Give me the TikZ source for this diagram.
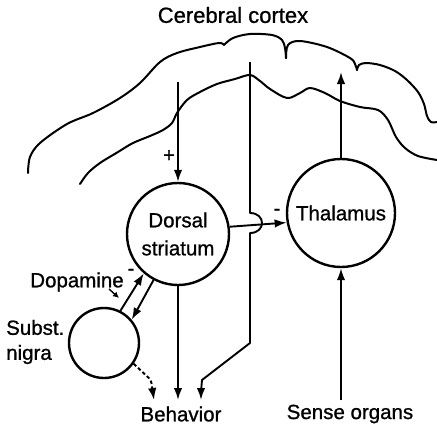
\documentclass[tikz,border=0pt]{standalone}
\usepackage{fontspec}
\setmainfont{Liberation Sans}[FakeBold=0.9]
\usetikzlibrary{arrows.meta}
\begin{document}
\begin{tikzpicture}[x=1pt,y=-1pt,
  lbl/.style={inner sep=0pt,font=\fontsize{20.5}{26}\selectfont},
  sgn/.style={inner sep=0pt,font=\fontsize{20}{20}\selectfont},
  ring/.style={draw,circle,line width=2.4pt,inner sep=0pt,font=\fontsize{20.5}{28}\selectfont,align=center},
  con/.style={line width=1.9pt,-{Latex[length=12pt,width=8.5pt]}},
  cortex/.style={line width=2pt,line cap=round,line join=round}]
\useasboundingbox (0,0) rectangle (437,429);
% cortex outlines
\draw[cortex] plot[smooth,tension=0.55] coordinates {(28,173) (30,157) (40,143) (67,124) (93,113) (120,98) (140,83) (160,62) (177,53) (200,47) (219,43) (224,45)};
\draw[cortex] plot[smooth,tension=0.55] coordinates {(224,45) (233,38) (250,34) (272,35) (282,40) (285,48) (286,58)};
\draw[cortex] plot[smooth,tension=0.55] coordinates {(286,58) (288,45) (300,41) (327,47) (350,58) (355,64) (357,70)};
\draw[cortex] plot[smooth,tension=0.55] coordinates {(357,70) (359,65) (366,63) (380,65) (395,71) (407,80) (418,92) (424,104) (427,116) (431,122) (437,122)};
\draw[cortex] plot[smooth,tension=0.55] coordinates {(80,184) (88,173) (100,163) (118,152) (133,143) (150,136) (163,130) (172,123) (177,113) (187,100) (200,92) (217,84) (235,79) (250,75) (260,81) (270,89) (287,98) (300,93) (310,88) (325,93) (340,101) (360,107) (378,110) (388,120) (396,137) (405,148) (418,156) (437,160)};
% nodes
\node[lbl,font=\fontsize{22}{26}\selectfont] (cortexlbl) at (233,15) {Cerebral cortex};
\node[ring,minimum size=102pt] (striatum) at (178,234) {Dorsal\\striatum};
\node[ring,minimum size=108pt] (thalamus) at (341,213) {Thalamus};
\node[ring,minimum size=70pt] (nigra) at (104,343) {};
\node[lbl,anchor=west,align=left,font=\fontsize{20.5}{25}\selectfont] (subst) at (6,342) {Subst.\\nigra};
\node[lbl] (dopamine) at (77,282) {Dopamine};
\node[lbl] (behavior) at (181,414) {Behavior};
\node[lbl] (sense) at (350,414) {Sense organs};
\node[sgn] (plus) at (169,156) {+};
\node[sgn] (minusd) at (131,272) {-};
\node[sgn] (minust) at (277,212) {-};
% coordinates
\coordinate (c1) at (178,82);
\coordinate (c2) at (250,62);
\coordinate (c3) at (341,72);
\coordinate (b1) at (154,400);
\coordinate (b2) at (178,400);
\coordinate (b3) at (201,400);
\coordinate (s1) at (341,400);
\coordinate (dp1) at (109,289);
\coordinate (dp2) at (119,298);
% connectors
\draw[con] (c1) -- (striatum.north);
\draw[con] (striatum.south) -- (b2);
\draw[con] (striatum.8) -- (thalamus.190);
\draw[con] (thalamus.north) -- (c3);
\draw[con] (s1) -- (thalamus.south);
\draw[con] (nigra.63) -- (striatum.229);
\draw[con] (striatum.242) -- (nigra.40);
\draw[con,dash pattern=on 3.5pt off 2.5pt,rounded corners=3pt] (nigra.325) -- (151,380) -- (b1);
\draw[line width=1.9pt,line join=round] (c2) -- (250,213) .. controls (266,213) and (266,233) .. (250,233) -- (250,343) -- (202,380) -- (201,392);
\draw[con] (201,390) -- (b3);
\draw[line width=1.4pt,-{Latex[length=6pt,width=6pt]}] (dp1) -- (dp2);
\end{tikzpicture}
\end{document}
